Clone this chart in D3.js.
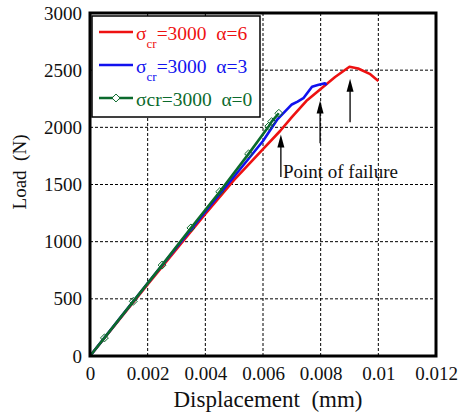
<!DOCTYPE html>
<html><head><meta charset="utf-8">
<script src="https://cdn.jsdelivr.net/npm/d3@7"></script>
<style>body{margin:0;background:#fff}svg{display:block}</style>
</head><body>
<svg id="c" width="462" height="414" font-family="Liberation Serif, Times New Roman, Times, DejaVu Serif, serif"></svg>
<script>
const FONT = "Liberation Serif, Times New Roman, Times, DejaVu Serif, serif";
const xTicks = [0, 0.002, 0.004, 0.006, 0.008, 0.010, 0.012];
const xTickLabels = ["0", "0.002", "0.004", "0.006", "0.008", "0.01", "0.012"];
const yTicks = [0, 500, 1000, 1500, 2000, 2500, 3000];
const yTickLabels = ["0", "500", "1000", "1500", "2000", "2500", "3000"];

const redX = [0, 0.001, 0.002, 0.003, 0.004, 0.005, 0.006, 0.0066, 0.007, 0.0075, 0.008, 0.0085, 0.009, 0.0093, 0.0097, 0.010];
const redY = [0, 313, 626, 935, 1242, 1540, 1810, 1970, 2090, 2230, 2335, 2440, 2530, 2515, 2468, 2405];
const blueX = [0, 0.001, 0.002, 0.003, 0.004, 0.005, 0.006, 0.0065, 0.007, 0.0072, 0.0074, 0.0077, 0.0079, 0.00815, 0.0082];
const blueY = [0, 318, 636, 950, 1262, 1570, 1880, 2070, 2200, 2225, 2255, 2355, 2370, 2385, 2368];
const greenX = [0, 0.0005, 0.0015, 0.0025, 0.0035, 0.0045, 0.0055, 0.0062, 0.0063, 0.00655];
const greenY = [0, 158, 478, 795, 1120, 1437, 1768, 2010, 2050, 2123];

const seriesNames = ["α=6", "α=3", "α=0"];
const arrowX = [0.00662, 0.00798, 0.00902];
const arrowTop = [1938, 2235, 2425];
const arrowBottom = [1565, 1860, 2045];
const annotation = "Point of failure";

const svg = d3.select("#c");
const L = 90, R = 436, T = 13, B = 356;
const x = d3.scaleLinear().domain([0, 0.012]).range([L, R]);
const y = d3.scaleLinear().domain([0, 3000]).range([B, T]);

// grid
const g = svg.append("g");
g.selectAll(".vg").data(xTicks.slice(1, -1)).join("line")
  .attr("x1", d => x(d)).attr("x2", d => x(d)).attr("y1", T).attr("y2", B)
  .attr("stroke", "#000").attr("stroke-width", 1).attr("stroke-dasharray", "3,2");
g.selectAll(".hg").data(yTicks.slice(1, -1)).join("line")
  .attr("x1", L).attr("x2", R).attr("y1", d => y(d)).attr("y2", d => y(d))
  .attr("stroke", "#000").attr("stroke-width", 1).attr("stroke-dasharray", "3,2");

// axes
const xAxis = d3.axisBottom(x).tickValues(xTicks).tickSize(0).tickPadding(11)
  .tickFormat((d, i) => xTickLabels[i]);
const yAxis = d3.axisLeft(y).tickValues(yTicks).tickSize(0).tickPadding(8)
  .tickFormat((d, i) => yTickLabels[i]);
const gx = svg.append("g").attr("transform", `translate(0,${B})`).call(xAxis);
const gy = svg.append("g").attr("transform", `translate(${L},0)`).call(yAxis);
[gx, gy].forEach(a => {
  a.attr("font-family", FONT).attr("font-size", 19);
  a.select(".domain").remove();
  a.selectAll("text").attr("font-family", FONT).attr("font-size", 19).attr("fill", "#111");
});

// lines
const line = d3.line().x(d => x(d[0])).y(d => y(d[1]));
const red = redX.map((v, i) => [v, redY[i]]);
const blue = blueX.map((v, i) => [v, blueY[i]]);
const green = greenX.map((v, i) => [v, greenY[i]]);
const cRed = "#ee1111", cBlue = "#1111ee", cGreen = "#0b6a2c";
svg.append("path").attr("d", line(red)).attr("fill", "none").attr("stroke", cRed).attr("stroke-width", 2.6).attr("stroke-linejoin", "round");
svg.append("path").attr("d", line(blue)).attr("fill", "none").attr("stroke", cBlue).attr("stroke-width", 2.6).attr("stroke-linejoin", "round");
svg.append("path").attr("d", line(green)).attr("fill", "none").attr("stroke", cGreen).attr("stroke-width", 2.6).attr("stroke-linejoin", "round");
const diamond = d3.symbol().type(d3.symbolDiamond2).size(40);
svg.selectAll(".mk").data(green.slice(1)).join("path")
  .attr("d", diamond).attr("transform", d => `translate(${x(d[0])},${y(d[1])})`)
  .attr("fill", "none").attr("stroke", cGreen).attr("stroke-width", 1);

// frame
svg.append("rect").attr("x", L).attr("y", T).attr("width", R - L).attr("height", B - T)
  .attr("fill", "none").attr("stroke", "#000").attr("stroke-width", 3);

// arrows
arrowX.forEach((ax, i) => {
  const px = x(ax), pt = y(arrowTop[i]), pb = y(arrowBottom[i]);
  svg.append("line").attr("x1", px).attr("x2", px).attr("y1", pb).attr("y2", pt + 10)
    .attr("stroke", "#000").attr("stroke-width", 1.3);
  svg.append("path").attr("d", `M${px},${pt} L${px - 3.5},${pt + 13} L${px + 3.5},${pt + 13} Z`).attr("fill", "#000");
});
svg.append("text").attr("x", x(arrowX[0]) + 2).attr("y", y(arrowBottom[0]) + 1)
  .attr("font-family", FONT).attr("font-size", 19).attr("fill", "#111").text(annotation);

// legend
const lg = svg.append("g");
lg.append("rect").attr("x", 92).attr("y", 16).attr("width", 168).attr("height", 101)
  .attr("fill", "#fff").attr("stroke", "#000").attr("stroke-width", 1.5);
const rows = [
  {c: cRed, sub: true, name: seriesNames[0], ly: 32},
  {c: cBlue, sub: true, name: seriesNames[1], ly: 65},
  {c: cGreen, sub: false, name: seriesNames[2], ly: 98, marker: true}
];
rows.forEach(r => {
  lg.append("line").attr("x1", 99).attr("x2", 133).attr("y1", r.ly).attr("y2", r.ly)
    .attr("stroke", r.c).attr("stroke-width", 2.6);
  if (r.marker) lg.append("path").attr("d", diamond).attr("transform", `translate(116,${r.ly})`)
    .attr("fill", "#fff").attr("stroke", r.c).attr("stroke-width", 1);
  const t = lg.append("text").attr("x", 136).attr("y", r.ly + 8).attr("font-family", FONT)
    .attr("font-size", 19.5).attr("fill", r.c).attr("xml:space", "preserve");
  if (r.sub) {
    t.append("tspan").text("σ");
    t.append("tspan").attr("font-size", 13).attr("dy", 8).text("cr");
    t.append("tspan").attr("dy", -8).text("=3000  " + r.name);
  } else {
    t.text("σcr=3000  " + r.name);
  }
});

// axis titles
svg.append("text").attr("x", 268).attr("y", 407).attr("text-anchor", "middle").attr("font-family", FONT)
  .attr("font-size", 23).attr("fill", "#111").attr("xml:space", "preserve").text("Displacement  (mm)");
svg.append("text").attr("transform", "translate(26,172) rotate(-90)").attr("text-anchor", "middle").attr("font-family", FONT)
  .attr("font-size", 19).attr("fill", "#111").attr("xml:space", "preserve").text("Load  (N)");
</script>
</body></html>
